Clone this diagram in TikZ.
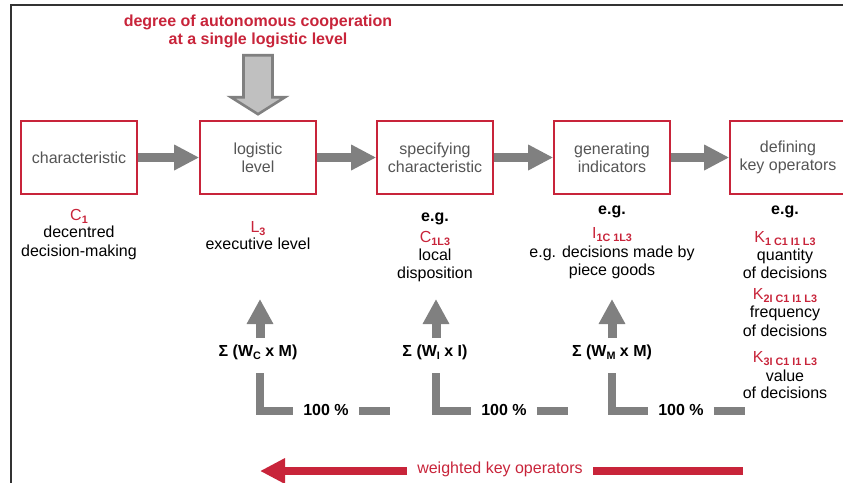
\documentclass[tikz,border=0pt]{standalone}
\usepackage{fontspec}
\setmainfont{Liberation Sans}
\usetikzlibrary{arrows.meta,calc}
\definecolor{cred}{RGB}{200,36,58}
\definecolor{cgray}{RGB}{128,128,128}
\definecolor{ctext}{RGB}{85,85,85}
\definecolor{clight}{RGB}{192,192,192}
\definecolor{cframe}{RGB}{51,51,51}
\newcommand\lowsub[1]{\raisebox{-3.5pt}{\fontsize{10.8}{12}\selectfont\bfseries #1}}
\tikzset{
  box/.style={draw=cred, line width=1.6pt, minimum width=116pt, minimum height=73pt,
    inner sep=0pt, align=center, text=ctext, font=\fontsize{16}{18}\selectfont},
  lbl/.style={inner sep=0pt, text height=11pt, text depth=3pt, font=\fontsize{16}{18}\selectfont},
  boldlbl/.style={lbl, font=\fontsize{16}{18}\selectfont\bfseries},
  flow/.style={draw=cgray, line width=9pt, -{Triangle[length=25pt,width=24pt]}},
  uparr/.style={draw=cgray, line width=9pt, -{Triangle[length=25pt,width=25pt]}},
  lbar/.style={draw=cgray, line width=8.5pt, line join=miter},
  redbar/.style={draw=cred, line width=8.5pt},
  pct/.style={boldlbl, inner xsep=10pt},
}
\begin{document}
\begin{tikzpicture}[x=1pt,y=-1pt]
\useasboundingbox (0,0) rectangle (843,482);
\clip (0,0) rectangle (843,482);

% frame
\draw[cframe, line width=1.3pt] (11,490) -- (11,5) -- (850,5);

% title
\node[font=\fontsize{16}{18}\selectfont\bfseries, text=cred, align=center, inner sep=0pt]
  (title) at (258,31) {degree of autonomous cooperation\\at a single logistic level};

% boxes
\node[box] (c1) at (79,157.5) {characteristic};
\node[box] (c2) at (258,157.5) {logistic\\level};
\node[box] (c3) at (435,157.5) {specifying\\characteristic};
\node[box] (c4) at (612,157.5) {generating\\indicators};
\node[box] (c5) at (788,157.5) {defining\\key operators};

% flow arrows
\draw[flow] (c1) -- (c2);
\draw[flow] (c2) -- (c3);
\draw[flow] (c3) -- (c4);
\draw[flow] (c4) -- (c5);

% big down arrow
\coordinate (dtip) at ($(c2.north)+(0,-6)$);
\draw[draw=cgray, fill=clight, line width=2.6pt, line join=miter]
  (dtip) -- ++(-27,-17) -- ++(12.5,0) -- ++(0,-42) -- ++(29,0) -- ++(0,42) -- ++(12.5,0) -- cycle;

% column 1
\node[lbl, text=cred] (a1) at (79,216) {C\lowsub{1}};
\node[lbl] (a2) at (79,233) {decentred};
\node[lbl] (a3) at (79,252) {decision-making};

% column 2
\node[lbl, text=cred] (b1) at (258,228) {L\lowsub{3}};
\node[lbl] (b2) at (258,245) {executive level};

% column 3
\node[boldlbl] (e1) at (435,217) {e.g.};
\node[lbl, text=cred] (e2) at (435,238) {C\lowsub{1L3}};
\node[lbl] (e3) at (435,256) {local};
\node[lbl] (e4) at (435,274) {disposition};

% column 4
\node[boldlbl] (f1) at (612,210) {e.g.};
\node[lbl, text=cred] (f2) at (612,234) {I\lowsub{1C 1L3}};
\node[lbl] (f3) at (612,253) {e.g. decisions made by};
\node[lbl] (f4) at (612,271) {piece goods};

% column 5
\node[boldlbl] (g1) at (785,210) {e.g.};
\node[lbl, text=cred] (g2) at (785,238) {K\lowsub{1 C1 I1 L3}};
\node[lbl] (g3) at (785,256) {quantity};
\node[lbl] (g4) at (785,274) {of decisions};
\node[lbl, text=cred] (g5) at (785,295) {K\lowsub{2I C1 I1 L3}};
\node[lbl] (g6) at (785,313) {frequency};
\node[lbl] (g7) at (785,332) {of decisions};
\node[lbl, text=cred] (g8) at (785,358) {K\lowsub{3I C1 I1 L3}};
\node[lbl] (g9) at (785,377) {value};
\node[lbl] (g10) at (785,394) {of decisions};

% sums
\node[boldlbl] (s1) at (258,352) {Σ (W\lowsub{C} x M)};
\node[boldlbl] (s2) at (435,352) {Σ (W\lowsub{I} x I)};
\node[boldlbl] (s3) at (612,352) {Σ (W\lowsub{M} x M)};

% up arrows
\coordinate (ub1) at (260,338); \coordinate (ut1) at (260,299);
\coordinate (ub2) at (436,338); \coordinate (ut2) at (436,299);
\coordinate (ub3) at (612,338); \coordinate (ut3) at (612,299);
\draw[uparr] (ub1) -- (ut1);
\draw[uparr] (ub2) -- (ut2);
\draw[uparr] (ub3) -- (ut3);

% 100 % brackets
\node[pct] (p1) at (326,411) {100 \%};
\node[pct] (p2) at (504,411) {100 \%};
\node[pct] (p3) at (681,411) {100 \%};
\coordinate (v1) at (260,373);
\coordinate (v2) at (436,373);
\coordinate (v3) at (612,373);
\draw[lbar] (v1) |- (p1.west);
\draw[lbar] (p1.east) -- ++(31,0);
\draw[lbar] (v2) |- (p2.west);
\draw[lbar] (p2.east) -- ++(31,0);
\draw[lbar] (v3) |- (p3.west);
\draw[lbar] (p3.east) -- ++(31,0);

% weighted key operators
\node[lbl, text=cred, inner xsep=10pt] (wk) at (500,469) {weighted key operators};
\coordinate (rt) at (743,471);
\coordinate (rh) at (260,471);
\draw[redbar] (rt) -- (wk.east |- rt);
\draw[redbar, -{Triangle[length=25pt,width=24pt]}] (wk.west |- rh) -- (rh);
\end{tikzpicture}
\end{document}
